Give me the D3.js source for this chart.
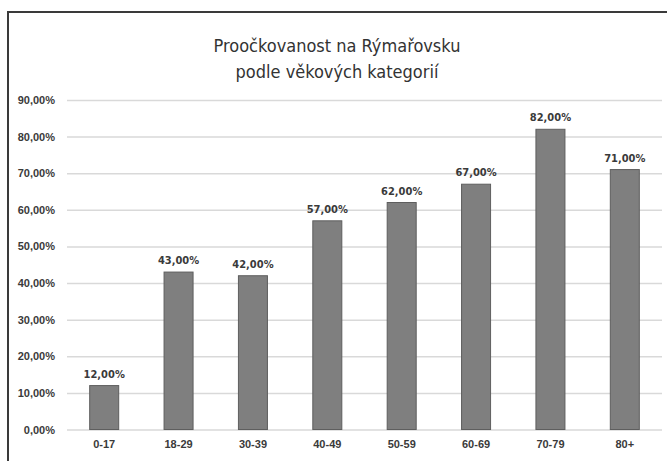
<!DOCTYPE html>
<html>
<head>
<meta charset="utf-8">
<script src="https://cdn.jsdelivr.net/npm/d3@7"></script>
<style>
  body { margin: 0; background: #fff; }
  svg { display: block; font-family: "DejaVu Sans Condensed", "Open Sans", sans-serif; }
</style>
</head>
<body>
<svg width="667" height="461"></svg>
<script>
var categories = ["0-17", "18-29", "30-39", "40-49", "50-59", "60-69", "70-79", "80+"];
var values = [12, 43, 42, 57, 62, 67, 82, 71];
var yTicks = [0, 10, 20, 30, 40, 50, 60, 70, 80, 90];
var titleLines = ["Proočkovanost na Rýmařovsku", "podle věkových kategorií"];

var svg = d3.select("svg"),
    margin = {top: 100, right: 5, bottom: 31.5, left: 67},
    width = svg.attr("width") - margin.left - margin.right,
    height = svg.attr("height") - margin.top - margin.bottom;

var fmt = function(v) { return v.toFixed(2).replace(".", ",") + "%"; };

// outer frame
svg.append("rect")
    .attr("x", 8).attr("y", 12)
    .attr("width", 670).attr("height", 470)
    .attr("fill", "none")
    .attr("stroke", "#3a3a3a")
    .attr("stroke-width", 2);

var xScale = d3.scaleBand()
    .domain(categories)
    .range([0, width])
    .paddingInner(0.61)
    .paddingOuter(0.305);

var yScale = d3.scaleLinear()
    .domain([0, 90])
    .range([height, 0]);

var g = svg.append("g")
    .attr("transform", "translate(" + margin.left + "," + margin.top + ")");

// gridlines
g.append("g")
    .call(d3.axisLeft(yScale).tickValues(yTicks).tickSize(-width).tickFormat(""))
    .call(function(a) {
        a.select(".domain").remove();
        a.selectAll("line").attr("stroke", "#d9d9d9").attr("stroke-width", 1.5);
    });

// y labels
g.append("g")
    .call(d3.axisLeft(yScale).tickValues(yTicks).tickSize(0).tickPadding(12).tickFormat(fmt))
    .call(function(a) {
        a.select(".domain").remove();
        a.selectAll("text")
            .attr("fill", "#3a3a3a")
            .style("font-size", "11px")
            .style("font-weight", "bold");
    });

// x labels
g.append("g")
    .attr("transform", "translate(0," + height + ")")
    .call(d3.axisBottom(xScale).tickSize(0).tickPadding(11))
    .call(function(a) {
        a.select(".domain").remove();
        a.selectAll("text")
            .attr("fill", "#3a3a3a")
            .style("font-size", "11px")
            .style("font-weight", "bold");
    });

g.selectAll(".bar")
    .data(values)
    .enter().append("rect")
    .attr("class", "bar")
    .attr("x", function(d, i) { return xScale(categories[i]); })
    .attr("y", function(d) { return yScale(d); })
    .attr("width", xScale.bandwidth())
    .attr("height", function(d) { return height - yScale(d); })
    .attr("fill", "#7f7f7f")
    .attr("stroke", "#5e5e5e")
    .attr("stroke-width", 1);

g.selectAll(".lbl")
    .data(values)
    .enter().append("text")
    .attr("class", "lbl")
    .attr("x", function(d, i) { return xScale(categories[i]) + xScale.bandwidth() / 2; })
    .attr("y", function(d) { return yScale(d) - 8; })
    .attr("text-anchor", "middle")
    .attr("fill", "#3a3a3a")
    .style("font-size", "11px")
    .style("font-weight", "bold")
    .text(fmt);

// title
svg.append("text")
    .attr("x", 337)
    .attr("y", 52)
    .attr("text-anchor", "middle")
    .attr("fill", "#333")
    .style("font-size", "18px")
    .selectAll("tspan")
    .data(titleLines)
    .enter().append("tspan")
    .attr("x", 337)
    .attr("dy", function(d, i) { return i === 0 ? 0 : 26; })
    .text(function(d) { return d; });
</script>
</body>
</html>
